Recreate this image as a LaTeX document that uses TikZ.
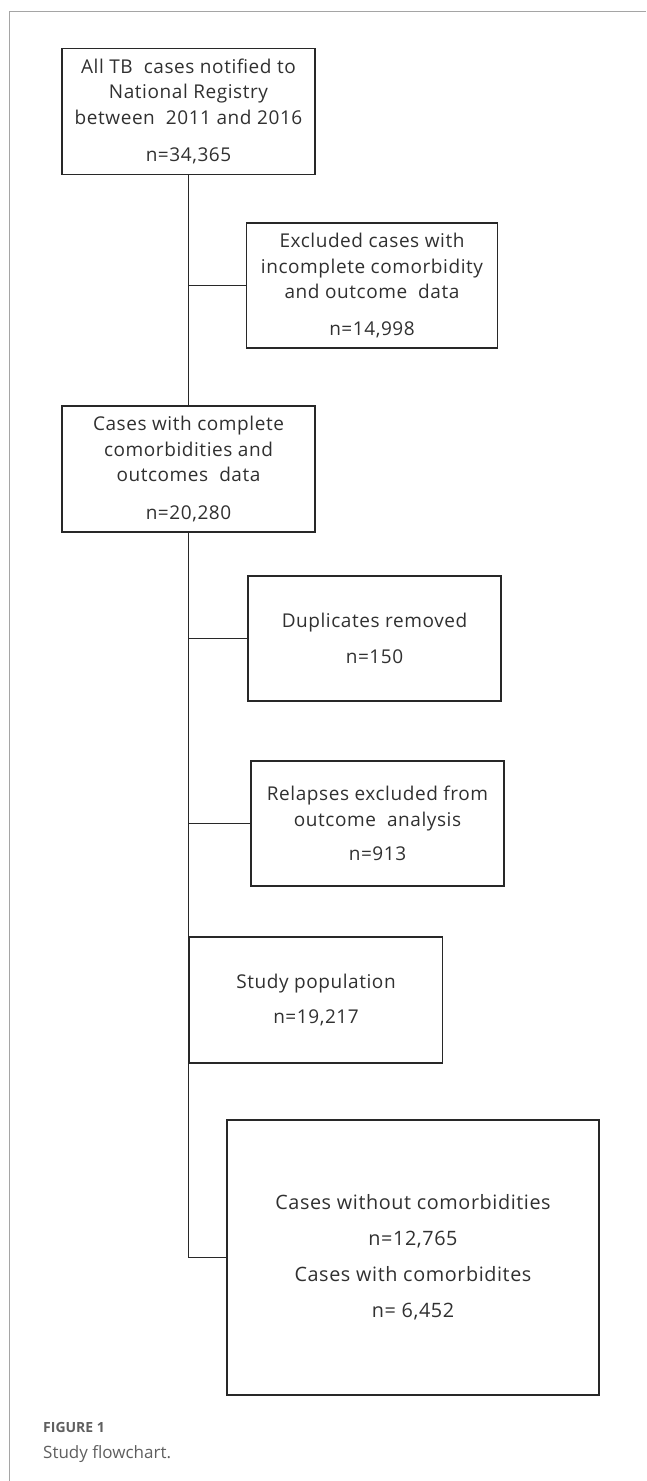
\documentclass[tikz,border=0pt]{standalone}
\usepackage{fontspec}
\setmainfont{Open Sans}[LetterSpace=3.0]
\newfontfamily\capfont{Open Sans}
\usetikzlibrary{positioning}
\definecolor{boxline}{RGB}{40,40,40}
\definecolor{boxtext}{RGB}{48,48,48}
\definecolor{framegray}{RGB}{165,165,165}
\definecolor{capgray}{RGB}{95,95,95}

\begin{document}
\begin{tikzpicture}[x=1pt,y=-1pt,
  flowbox/.style={draw=boxline, line width=1.2pt, text=boxtext, align=center,
    minimum width=253pt, minimum height=126pt, inner sep=0pt,
    font=\fontsize{19}{25.5}\selectfont},
  link/.style={draw=boxline, line width=1.2pt}]
\useasboundingbox (0,0) rectangle (646,1481);
% page frame
\draw[framegray, line width=0.8pt] (9.3,1481) -- (9.3,11) -- (646,11);
% boxes
\node[flowbox] (all) at (188.5,111.5) {All TB\ \ cases notified to\\National Registry\\between\ \ 2011 and 2016\\[12pt]n=34,365};
\node[flowbox, minimum width=251pt, minimum height=125pt] (excl) at (372,285.5) {Excluded cases with\\incomplete comorbidity\\and outcome\ \ data\\[11pt]n=14,998};
\node[flowbox] (complete) at (188.5,469) {Cases with complete\\comorbidities and\\outcomes\ \ data\\[12pt]n=20,280};
\node[flowbox, minimum height=125pt] (dupl) at (374.5,638.5) {Duplicates removed\\[11pt]n=150};
\node[flowbox, minimum height=125pt] (relapse) at (377.5,823.5) {Relapses excluded from\\outcome\ \ analysis\\[9pt]n=913};
\node[flowbox] (study) at (316,1000) {Study population\\[9pt]n=19,217};
\node[flowbox, minimum width=372pt, minimum height=275pt,
  font=\fontsize{19.8}{36}\selectfont] (groups) at (413,1257.5) {Cases without comorbidities\\n=12,765\\Cases with comorbidites\\n= 6,452};
% connectors
\coordinate (turn) at (all.south |- groups.west);
\draw[link] (all.south) -- (complete.north);
\draw[link] (complete.south) -- (turn) -- (groups.west);
\draw[link] (excl.west) -- (excl.west -| all.south);
\draw[link] (dupl.west) -- (dupl.west -| all.south);
\draw[link] (relapse.west) -- (relapse.west -| all.south);
% caption
\node[anchor=base west, inner sep=0pt, text=capgray, font=\capfont\bfseries\fontsize{14}{16}\selectfont] (fig) at (43,1432) {FIGURE 1};
\node[anchor=base west, inner sep=0pt, text=capgray, font=\capfont\fontsize{17}{20}\selectfont] (title) at (43,1458) {Study flowchart.};
\end{tikzpicture}
\end{document}
